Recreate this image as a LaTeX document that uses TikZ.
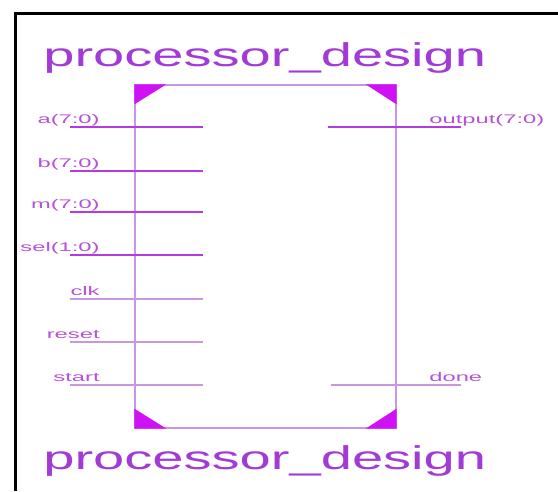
\documentclass[tikz,border=0pt]{standalone}
\usepackage{fontspec}
\setmainfont{Liberation Sans}
\usetikzlibrary{positioning}

\definecolor{titlepurple}{HTML}{A23BD6}
\definecolor{pinpurple}{HTML}{B552D8}
\definecolor{buspurple}{HTML}{B23CE0}
\definecolor{edgepurple}{HTML}{C996E0}
\definecolor{cornermag}{HTML}{D010F5}

\begin{document}
\begin{tikzpicture}[
    x=1pt, y=-1pt,
    title/.style={font=\fontsize{33}{33}\selectfont, text=titlepurple, inner sep=0pt, xscale=1.7},
    pinlabel/.style={font=\fontsize{12.5}{12.5}\selectfont, text=pinpurple, inner sep=0pt, xscale=1.9},
    symbox/.style={rectangle, draw=edgepurple, line width=1.3pt, minimum width=261pt, minimum height=343pt, inner sep=0pt},
    bus/.style={draw=buspurple, line width=2.6pt},
    wire/.style={draw=edgepurple, line width=1.4pt},
    corner/.style={fill=cornermag}
]
    \useasboundingbox (0,0) rectangle (558,491);
    \draw[line width=3pt] (15,491) -- (15,13) -- (558,13);

    \node[symbox] (box) at (265.5,256.5) {};
    \node[title, anchor=base west] (toptitle) at (43,66) {processor\_design};
    \node[title, anchor=base west] (bottitle) at (43,469) {processor\_design};

    % corner marks
    \fill[corner] (box.north west) -- ++(32,0) -- ++(-32,20) -- cycle;
    \fill[corner] (box.north east) -- ++(-31,0) -- ++(31,20) -- cycle;
    \fill[corner] (box.south west) -- ++(32,0) -- ++(-32,-20) -- cycle;
    \fill[corner] (box.south east) -- ++(-31,0) -- ++(31,-20) -- cycle;

    % inputs
    \coordinate (a-l) at (70,127);   \coordinate (a-r) at (203,127);
    \coordinate (b-l) at (70,171);   \coordinate (b-r) at (203,171);
    \coordinate (m-l) at (70,212);   \coordinate (m-r) at (203,212);
    \coordinate (sel-l) at (70,255); \coordinate (sel-r) at (203,255);
    \coordinate (clk-l) at (70,299); \coordinate (clk-r) at (203,299);
    \coordinate (reset-l) at (70,342); \coordinate (reset-r) at (203,342);
    \coordinate (start-l) at (70,385); \coordinate (start-r) at (203,385);

    \node[pinlabel, anchor=base east] (alabel) at (100,123) {a(7:0)};
    \node[pinlabel, anchor=base east] (blabel) at (100,167) {b(7:0)};
    \node[pinlabel, anchor=base east] (mlabel) at (100,208) {m(7:0)};
    \node[pinlabel, anchor=base east] (sellabel) at (100,251) {sel(1:0)};
    \node[pinlabel, anchor=base east] (clklabel) at (100,295) {clk};
    \node[pinlabel, anchor=base east] (resetlabel) at (100,338) {reset};
    \node[pinlabel, anchor=base east] (startlabel) at (100,381) {start};

    \draw[bus] (a-l) -- (a-r);
    \draw[bus] (b-l) -- (b-r);
    \draw[bus] (m-l) -- (m-r);
    \draw[bus] (sel-l) -- (sel-r);
    \draw[wire] (clk-l) -- (clk-r);
    \draw[wire] (reset-l) -- (reset-r);
    \draw[wire] (start-l) -- (start-r);

    % outputs
    \coordinate (out-l) at (328,127);  \coordinate (out-r) at (461,127);
    \coordinate (done-l) at (331,385); \coordinate (done-r) at (461,385);

    \node[pinlabel, anchor=base west] (outlabel) at (429,123) {output(7:0)};
    \node[pinlabel, anchor=base west] (donelabel) at (429,381) {done};

    \draw[bus] (out-l) -- (out-r);
    \draw[wire] (done-l) -- (done-r);
\end{tikzpicture}
\end{document}
